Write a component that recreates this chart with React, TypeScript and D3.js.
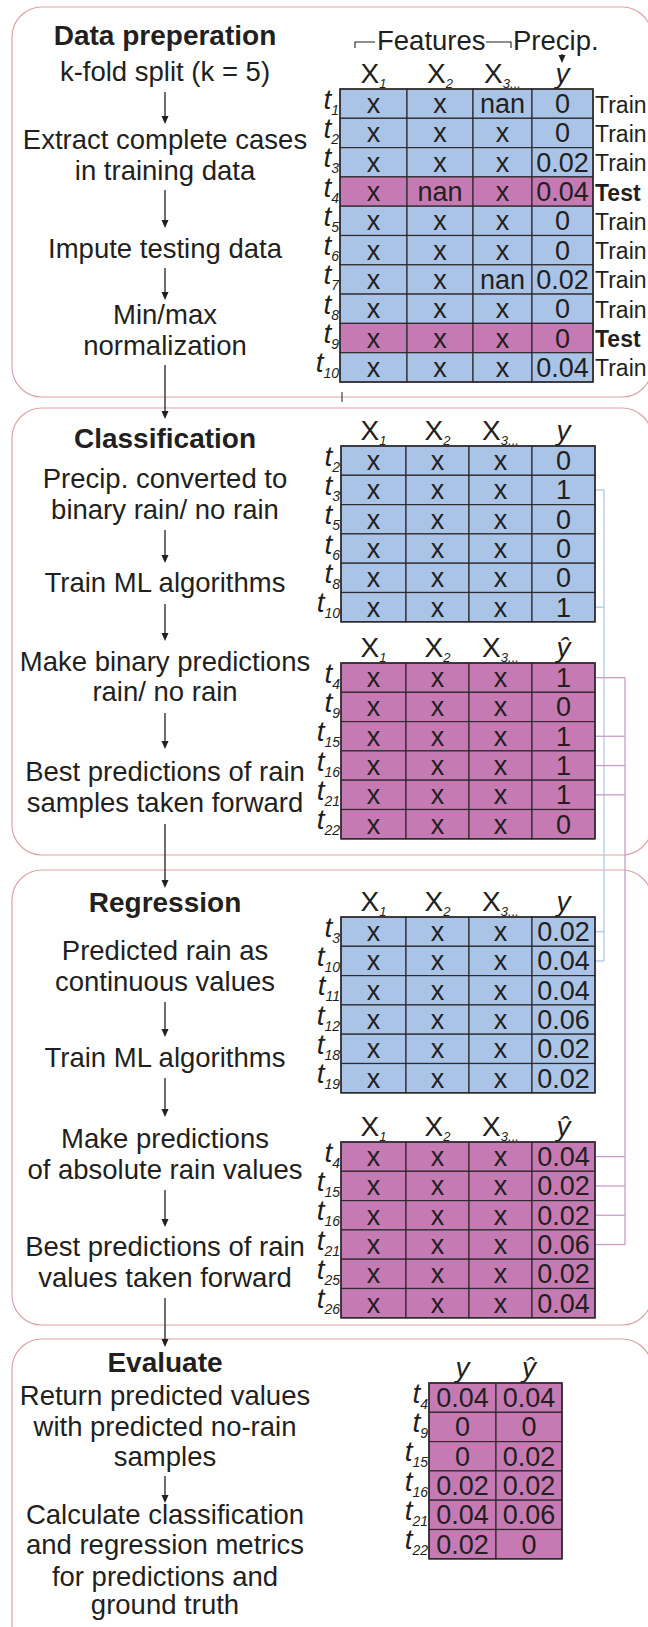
import React from 'react';
import * as d3 from 'd3';

// ---------- DATA ----------
const prepLabels = ['1', '2', '3', '4', '5', '6', '7', '8', '9', '10'];
const prepX1 = ['x', 'x', 'x', 'x', 'x', 'x', 'x', 'x', 'x', 'x'];
const prepX2 = ['x', 'x', 'x', 'nan', 'x', 'x', 'x', 'x', 'x', 'x'];
const prepX3 = ['nan', 'x', 'x', 'x', 'x', 'x', 'nan', 'x', 'x', 'x'];
const prepY = ['0', '0', '0.02', '0.04', '0', '0', '0.02', '0', '0', '0.04'];
const prepSplit = ['Train', 'Train', 'Train', 'Test', 'Train', 'Train', 'Train', 'Train', 'Test', 'Train'];

const classTrainLabels = ['2', '3', '5', '6', '8', '10'];
const classTrainY = ['0', '1', '0', '0', '0', '1'];
const classTestLabels = ['4', '9', '15', '16', '21', '22'];
const classTestYhat = ['1', '0', '1', '1', '1', '0'];

const regTrainLabels = ['3', '10', '11', '12', '18', '19'];
const regTrainY = ['0.02', '0.04', '0.04', '0.06', '0.02', '0.02'];
const regTestLabels = ['4', '15', '16', '21', '25', '26'];
const regTestYhat = ['0.04', '0.02', '0.02', '0.06', '0.02', '0.04'];

const evalLabels = ['4', '9', '15', '16', '21', '22'];
const evalY = ['0.04', '0', '0', '0.02', '0.04', '0.02'];
const evalYhat = ['0.04', '0', '0.02', '0.02', '0.06', '0'];

const featureHeaders = [
  { main: 'X', sub: '1' },
  { main: 'X', sub: '2' },
  { main: 'X', sub: '3...' },
];

// ---------- STYLE ----------
const W = 648;
const H = 1627;
const FONT = "'Liberation Sans', Arial, Helvetica, sans-serif";
const TEXT = '#231f20';
const BLUE = '#aac4e8';
const PINK = '#c67ab4';
const GRID = '#2e2a2d';
const PANEL = '#dfa3a7';
const LINK_BLUE = '#b3c8e7';
const LINK_PINK = '#c99cc8';
const ROW_H = 29.3;
const CX = 165;
const BODY = 27.5;

type Header = { main: string; sub?: string; italic?: boolean };

function Table(props: {
  edges: number[];
  top: number;
  labels: string[];
  columns: string[][];
  fill: (i: number) => string;
  headers: Header[];
  split?: string[];
}) {
  const { edges, top, labels, columns, fill, headers, split } = props;
  const n = labels.length;
  const y = d3.scaleLinear().domain([0, n]).range([top, top + n * ROW_H]);
  const x = d3.scaleLinear().domain([0, edges.length - 1]).range([edges[0], edges[edges.length - 1]]);
  const colX = (j: number) => edges[j];
  return (
    <g>
      {headers.map((h, j) => {
        const cx = (colX(j) + colX(j + 1)) / 2;
        return (
          <text key={'h' + j} x={cx} y={top - 6} textAnchor="middle" fontSize={28} fill={TEXT}
            fontStyle={h.italic ? 'italic' : 'normal'}>
            {h.main}
            {h.sub ? (
              <tspan fontSize={13} fontStyle="italic" dy={5}>{h.sub}</tspan>
            ) : null}
          </text>
        );
      })}
      {labels.map((lab, i) => (
        <g key={'r' + i}>
          {columns.map((col, j) => (
            <rect key={'c' + j} x={colX(j)} y={y(i)} width={colX(j + 1) - colX(j)} height={ROW_H}
              fill={fill(i)} stroke={GRID} strokeWidth={1.2} />
          ))}
        </g>
      ))}
      {labels.map((lab, i) => {
        const cy = (y(i) + y(i + 1)) / 2;
        return (
          <g key={'t' + i}>
            {columns.map((col, j) => (
              <text key={'v' + j} x={(colX(j) + colX(j + 1)) / 2} y={cy + 9.5} textAnchor="middle"
                fontSize={27} fill={TEXT}>{col[i]}</text>
            ))}
            <text x={edges[0] - 1} y={cy + 5} textAnchor="end" fontSize={28} fontStyle="italic" fill={TEXT}>
              t<tspan fontSize={14} dy={6}>{lab}</tspan>
            </text>
            {split ? (
              <text x={x(edges.length - 1) + 2} y={cy + 9} fontSize={23} fill={TEXT}
                fontWeight={split[i] === 'Test' ? 'bold' : 'normal'}>{split[i]}</text>
            ) : null}
          </g>
        );
      })}
      <rect x={edges[0]} y={top} width={edges[edges.length - 1] - edges[0]} height={n * ROW_H}
        fill="none" stroke={GRID} strokeWidth={1.5} />
    </g>
  );
}

function Arrow({ x, y1, y2 }: { x: number; y1: number; y2: number }) {
  return (
    <g>
      <line x1={x} x2={x} y1={y1} y2={y2 - 6} stroke={TEXT} strokeWidth={1.3} />
      <path d={`M${x - 3.5},${y2 - 8} L${x + 3.5},${y2 - 8} L${x},${y2} Z`} fill={TEXT} />
    </g>
  );
}

function Lines({ items }: { items: { t: string; y: number; b?: boolean }[] }) {
  return (
    <g>
      {items.map((it, i) => (
        <text key={i} x={CX} y={it.y} textAnchor="middle" fontSize={it.b ? 28 : BODY}
          fontWeight={it.b ? 'bold' : 'normal'} fill={TEXT}>{it.t}</text>
      ))}
    </g>
  );
}

function Panel({ y1, y2 }: { y1: number; y2: number }) {
  return <rect x={12} y={y1} width={640} height={y2 - y1} rx={30} ry={30} fill="none" stroke={PANEL} strokeWidth={1.2} />;
}

export default function App() {
  const edges1 = [340, 407, 473, 532, 593];
  const edges2 = [341, 406, 469, 532, 595];
  const edgesE = [429, 496, 562];
  const prepTop = 89;
  const cTrainTop = 446;
  const cTestTop = 663;
  const rTrainTop = 917;
  const rTestTop = 1142;
  const eTop = 1383;

  const yHdr: Header = { main: 'y', italic: true };
  const yHatHdr: Header = { main: 'ŷ', italic: true };

  const rowCenter = (top: number, i: number) => top + (i + 0.5) * ROW_H;

  // connectors derived from data
  const blueFromLabels = classTrainLabels.filter((l, i) => classTrainY[i] === '1');
  const blueFrom = classTrainLabels.map((l, i) => (blueFromLabels.includes(l) ? i : -1)).filter((i) => i >= 0);
  const blueTo = regTrainLabels.map((l, i) => (blueFromLabels.includes(l) ? i : -1)).filter((i) => i >= 0);
  const pinkFromLabels = classTestLabels.filter((l, i) => classTestYhat[i] === '1');
  const pinkFrom = classTestLabels.map((l, i) => (pinkFromLabels.includes(l) ? i : -1)).filter((i) => i >= 0);
  const pinkTo = regTestLabels.map((l, i) => (pinkFromLabels.includes(l) ? i : -1)).filter((i) => i >= 0);

  const blueYs = [...blueFrom.map((i) => rowCenter(cTrainTop, i)), ...blueTo.map((i) => rowCenter(rTrainTop, i))];
  const pinkYs = [...pinkFrom.map((i) => rowCenter(cTestTop, i)), ...pinkTo.map((i) => rowCenter(rTestTop, i))];
  const BX = 604;
  const PX = 625;

  return (
    <svg width={W} height={H} viewBox={`0 0 ${W} ${H}`} fontFamily={FONT}
      style={{ position: 'absolute', left: 0, top: 0, display: 'block', background: '#fff' }}>
      <rect x={0} y={0} width={W} height={H} fill="#fff" />

      <Panel y1={7} y2={397} />
      <Panel y1={408} y2={855} />
      <Panel y1={870} y2={1325} />
      <Panel y1={1339} y2={1660} />

      {/* connectors */}
      <g fill="none">
        <line x1={BX} x2={BX} y1={d3.min(blueYs)} y2={d3.max(blueYs)} stroke={LINK_BLUE} strokeWidth={1.3} />
        {blueYs.map((yy, i) => (
          <line key={'b' + i} x1={595} x2={BX} y1={yy} y2={yy} stroke={LINK_BLUE} strokeWidth={1.3} />
        ))}
        <line x1={PX} x2={PX} y1={d3.min(pinkYs)} y2={d3.max(pinkYs)} stroke={LINK_PINK} strokeWidth={1.3} />
        {pinkYs.map((yy, i) => (
          <line key={'p' + i} x1={595} x2={PX} y1={yy} y2={yy} stroke={LINK_PINK} strokeWidth={1.3} />
        ))}
      </g>

      {/* Section 1 */}
      <Lines items={[
        { t: 'Data preperation', y: 45, b: true },
        { t: 'k-fold split (k = 5)', y: 81 },
        { t: 'Extract complete cases', y: 149 },
        { t: 'in training data', y: 180 },
        { t: 'Impute testing data', y: 258 },
        { t: 'Min/max', y: 324 },
        { t: 'normalization', y: 355 },
      ]} />
      <Arrow x={CX} y1={92} y2={124} />
      <Arrow x={CX} y1={190} y2={228} />
      <Arrow x={CX} y1={268} y2={300} />
      <Arrow x={CX} y1={365} y2={419} />

      {/* Features bracket */}
      <g stroke={TEXT} strokeWidth={1.1} fill="none">
        <path d="M355,48 L355,42 L375,42" />
        <path d="M486,42 L511,42 L511,48" />
      </g>
      <text x={377} y={50} fontSize={BODY} fill={TEXT}>Features</text>
      <text x={513} y={50} fontSize={BODY} fill={TEXT}>Precip.</text>
      <Arrow x={562} y1={54} y2={63} />

      <Table edges={edges1} top={prepTop} labels={prepLabels}
        columns={[prepX1, prepX2, prepX3, prepY]}
        fill={(i) => (prepSplit[i] === 'Test' ? PINK : BLUE)}
        headers={[...featureHeaders, yHdr]} split={prepSplit} />
      <line x1={342} x2={342} y1={392} y2={402} stroke={TEXT} strokeWidth={1} />

      {/* Section 2 */}
      <Lines items={[
        { t: 'Classification', y: 448, b: true },
        { t: 'Precip. converted to', y: 488 },
        { t: 'binary rain/ no rain', y: 519 },
        { t: 'Train ML algorithms', y: 592 },
        { t: 'Make binary predictions', y: 671 },
        { t: 'rain/ no rain', y: 701 },
        { t: 'Best predictions of rain', y: 781 },
        { t: 'samples taken forward', y: 812 },
      ]} />
      <Arrow x={CX} y1={530} y2={563} />
      <Arrow x={CX} y1={604} y2={641} />
      <Arrow x={CX} y1={713} y2={749} />
      <Arrow x={CX} y1={824} y2={888} />

      <Table edges={edges2} top={cTrainTop} labels={classTrainLabels}
        columns={[classTrainLabels.map(() => 'x'), classTrainLabels.map(() => 'x'), classTrainLabels.map(() => 'x'), classTrainY]}
        fill={() => BLUE} headers={[...featureHeaders, yHdr]} />
      <Table edges={edges2} top={cTestTop} labels={classTestLabels}
        columns={[classTestLabels.map(() => 'x'), classTestLabels.map(() => 'x'), classTestLabels.map(() => 'x'), classTestYhat]}
        fill={() => PINK} headers={[...featureHeaders, yHatHdr]} />

      {/* Section 3 */}
      <Lines items={[
        { t: 'Regression', y: 912, b: true },
        { t: 'Predicted rain as', y: 960 },
        { t: 'continuous values', y: 991 },
        { t: 'Train ML algorithms', y: 1067 },
        { t: 'Make predictions', y: 1148 },
        { t: 'of absolute rain values', y: 1179 },
        { t: 'Best predictions of rain', y: 1256 },
        { t: 'values taken forward', y: 1287 },
      ]} />
      <Arrow x={CX} y1={1002} y2={1037} />
      <Arrow x={CX} y1={1078} y2={1117} />
      <Arrow x={CX} y1={1190} y2={1227} />
      <Arrow x={CX} y1={1298} y2={1347} />

      <Table edges={edges2} top={rTrainTop} labels={regTrainLabels}
        columns={[regTrainLabels.map(() => 'x'), regTrainLabels.map(() => 'x'), regTrainLabels.map(() => 'x'), regTrainY]}
        fill={() => BLUE} headers={[...featureHeaders, yHdr]} />
      <Table edges={edges2} top={rTestTop} labels={regTestLabels}
        columns={[regTestLabels.map(() => 'x'), regTestLabels.map(() => 'x'), regTestLabels.map(() => 'x'), regTestYhat]}
        fill={() => PINK} headers={[...featureHeaders, yHatHdr]} />

      {/* Section 4 */}
      <Lines items={[
        { t: 'Evaluate', y: 1372, b: true },
        { t: 'Return predicted values', y: 1405 },
        { t: 'with predicted no-rain', y: 1436 },
        { t: 'samples', y: 1466 },
        { t: 'Calculate classification', y: 1524 },
        { t: 'and regression metrics', y: 1554 },
        { t: 'for predictions and', y: 1586 },
        { t: 'ground truth', y: 1614 },
      ]} />
      <Arrow x={CX} y1={1476} y2={1503} />

      <Table edges={edgesE} top={eTop} labels={evalLabels}
        columns={[evalY, evalYhat]} fill={() => PINK} headers={[yHdr, yHatHdr]} />
    </svg>
  );
}
